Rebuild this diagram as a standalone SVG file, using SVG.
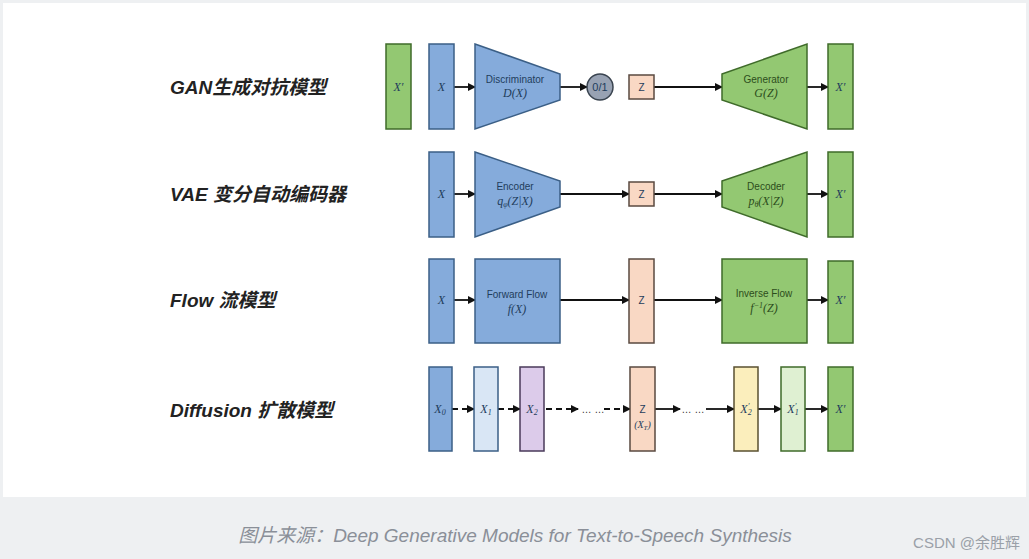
<svg xmlns="http://www.w3.org/2000/svg" width="1029" height="559" viewBox="0 0 1029 559">
<defs>
<marker id="ah" markerWidth="8" markerHeight="8" refX="7" refY="4" orient="auto" markerUnits="userSpaceOnUse"><path d="M0,0 L8,4 L0,8 z" fill="#111"/></marker>
<style>
.b{fill:#85abdb;stroke:#3b5f86;stroke-width:1.5}
.g{fill:#93c872;stroke:#3f6b2a;stroke-width:1.5}
.p{fill:#f9d8c4;stroke:#5a4a40;stroke-width:1.5}
.t{font-family:"Liberation Sans",Arial,sans-serif;font-size:10px;fill:#1f3d5c;text-anchor:middle}
.m{font-family:"Liberation Serif",serif;font-style:italic;font-size:12px;fill:#1f3d5c;text-anchor:middle}
.lbl{font-family:"Liberation Sans","Noto Sans CJK SC",sans-serif;font-style:italic;font-weight:bold;font-size:19px;fill:#222}
.c{stroke:#111;stroke-width:1.8;fill:none;marker-end:url(#ah)}
.d{stroke:#111;stroke-width:1.8;fill:none;stroke-dasharray:6,4;marker-end:url(#ah)}
</style>
</defs>
<rect width="1029" height="559" fill="#eef0f2"/>
<rect x="3" y="3" width="1023" height="494" fill="#ffffff"/>
<text class="lbl" x="170" y="94">GAN生成对抗模型</text>
<text class="lbl" x="170" y="201">VAE 变分自动编码器</text>
<text class="lbl" x="170" y="307">Flow  流模型</text>
<text class="lbl" x="170" y="417">Diffusion 扩散模型</text>
<g id="connectors">
<path class="c" d="M454,87 H475"/><path class="c" d="M560,87 H587"/><path class="c" d="M654,87 H722"/><path class="c" d="M807,87 H828"/>
<path class="c" d="M454,194 H475"/><path class="c" d="M560,194 H629"/><path class="c" d="M654,194 H722"/><path class="c" d="M807,194 H828"/>
<path class="c" d="M454,300 H475"/><path class="c" d="M560,300 H629"/><path class="c" d="M654,300 H722"/><path class="c" d="M807,300 H828"/>
<path class="d" d="M452,409 H474"/><path class="d" d="M498,409 H520"/><path class="d" d="M546,409 H578"/><path class="d" d="M604,409 H630"/>
<path class="c" d="M655,409 H680"/><path class="c" d="M706,409 H734"/><path class="c" d="M758,409 H781"/><path class="c" d="M805,409 H828"/>
</g>
<g id="gan">
<g id="gan-xp0"><rect class="g" x="386" y="44" width="25" height="85"/><text class="m" x="398.5" y="91">X′</text></g>
<g id="gan-x"><rect class="b" x="429" y="44" width="25" height="85"/><text class="m" x="441.5" y="91">X</text></g>
<g id="gan-d"><path class="b" d="M475,44 L560,74 L560,100 L475,129 Z"/><text class="t" x="515" y="83">Discriminator</text><text class="m" x="515" y="97">D(X)</text></g>
<g id="gan-o"><circle cx="600" cy="87" r="13" fill="#98a2b3" stroke="#3a4450" stroke-width="1.5"/><text class="t" x="600" y="91" style="font-size:11px">0/1</text></g>
<g id="gan-z"><rect class="p" x="629" y="75" width="25" height="24"/><text class="t" x="641.5" y="91">Z</text></g>
<g id="gan-g"><path class="g" d="M722,74 L807,44 L807,129 L722,100 Z"/><text class="t" x="766" y="83" style="fill:#2d4d1c">Generator</text><text class="m" x="766" y="97" style="fill:#2d4d1c">G(Z)</text></g>
<g id="gan-xp"><rect class="g" x="828" y="44" width="25" height="85"/><text class="m" x="840.5" y="91">X′</text></g>
</g>
<g id="vae">
<g id="vae-x"><rect class="b" x="429" y="152" width="25" height="85"/><text class="m" x="441.5" y="198">X</text></g>
<g id="vae-e"><path class="b" d="M475,152 L560,181 L560,207 L475,237 Z"/><text class="t" x="515" y="190">Encoder</text><text class="m" x="515" y="205">q<tspan font-size="8" dy="2">φ</tspan><tspan dy="-2">(Z|X)</tspan></text></g>
<g id="vae-z"><rect class="p" x="629" y="182" width="25" height="24"/><text class="t" x="641.5" y="198">Z</text></g>
<g id="vae-dec"><path class="g" d="M722,181 L807,152 L807,237 L722,207 Z"/><text class="t" x="766" y="190" style="fill:#2d4d1c">Decoder</text><text class="m" x="766" y="205" style="fill:#2d4d1c">p<tspan font-size="8" dy="2">θ</tspan><tspan dy="-2">(X|Z)</tspan></text></g>
<g id="vae-xp"><rect class="g" x="828" y="152" width="25" height="85"/><text class="m" x="840.5" y="198">X′</text></g>
</g>
<g id="flow">
<g id="flow-x"><rect class="b" x="429" y="259" width="25" height="84"/><text class="m" x="441.5" y="304">X</text></g>
<g id="flow-f"><rect class="b" x="475" y="259" width="85" height="84"/><text class="t" x="517" y="298">Forward Flow</text><text class="m" x="517" y="313">f(X)</text></g>
<g id="flow-z"><rect class="p" x="629" y="259" width="25" height="84"/><text class="t" x="641.5" y="304">Z</text></g>
<g id="flow-i"><rect class="g" x="722" y="259" width="85" height="84"/><text class="t" x="764" y="297" style="fill:#2d4d1c">Inverse Flow</text><text class="m" x="764" y="312" style="fill:#2d4d1c">f<tspan font-size="8" dy="-4">−1</tspan><tspan dy="4">(Z)</tspan></text></g>
<g id="flow-xp"><rect class="g" x="828" y="261" width="25" height="82"/><text class="m" x="840.5" y="304">X′</text></g>
</g>
<g id="diffusion">
<g id="d-x0"><rect class="b" x="429" y="367" width="23" height="84"/><text class="m" x="440" y="413">X<tspan font-size="8" dy="2">0</tspan></text></g>
<g id="d-x1"><rect x="474" y="367" width="24" height="84" fill="#d9e6f5" stroke="#3b5f86" stroke-width="1.5"/><text class="m" x="486" y="413">X<tspan font-size="8" dy="2">1</tspan></text></g>
<g id="d-x2"><rect x="520" y="367" width="24" height="84" fill="#dccbea" stroke="#4a3a5a" stroke-width="1.5"/><text class="m" x="532" y="413">X<tspan font-size="8" dy="2">2</tspan></text></g>
<text class="t" x="593" y="413" style="fill:#333">… …</text>
<g id="d-z"><rect class="p" x="630" y="367" width="25" height="84"/><text class="t" x="642.5" y="413">Z</text><text class="m" x="642.5" y="428" style="font-size:10px">(X<tspan font-size="7" dy="2">T</tspan><tspan dy="-2">)</tspan></text></g>
<text class="t" x="693" y="413" style="fill:#333">… …</text>
<g id="d-x2p"><rect x="734" y="367" width="24" height="84" fill="#fbeebc" stroke="#5a5030" stroke-width="1.5"/><text class="m" x="746" y="413">X<tspan font-size="8" dy="2">2</tspan><tspan font-size="8" dy="-6" dx="-4">′</tspan></text></g>
<g id="d-x1p"><rect x="781" y="367" width="24" height="84" fill="#dff0d2" stroke="#3f6b2a" stroke-width="1.5"/><text class="m" x="793" y="413">X<tspan font-size="8" dy="2">1</tspan><tspan font-size="8" dy="-6" dx="-4">′</tspan></text></g>
<g id="d-xp"><rect class="g" x="828" y="367" width="25" height="84"/><text class="m" x="840.5" y="413">X′</text></g>
</g>
<text x="515" y="542" text-anchor="middle" style="font-family:'Liberation Sans','Noto Sans CJK SC',sans-serif;font-style:italic;font-size:19px;fill:#8a8f98">图片来源：Deep Generative Models for Text-to-Speech Synthesis</text>
<text x="1020" y="548" text-anchor="end" style="font-family:'Liberation Sans','Noto Sans CJK SC',sans-serif;font-size:15px;fill:#9aa0a8">CSDN @余胜辉</text>
</svg>
